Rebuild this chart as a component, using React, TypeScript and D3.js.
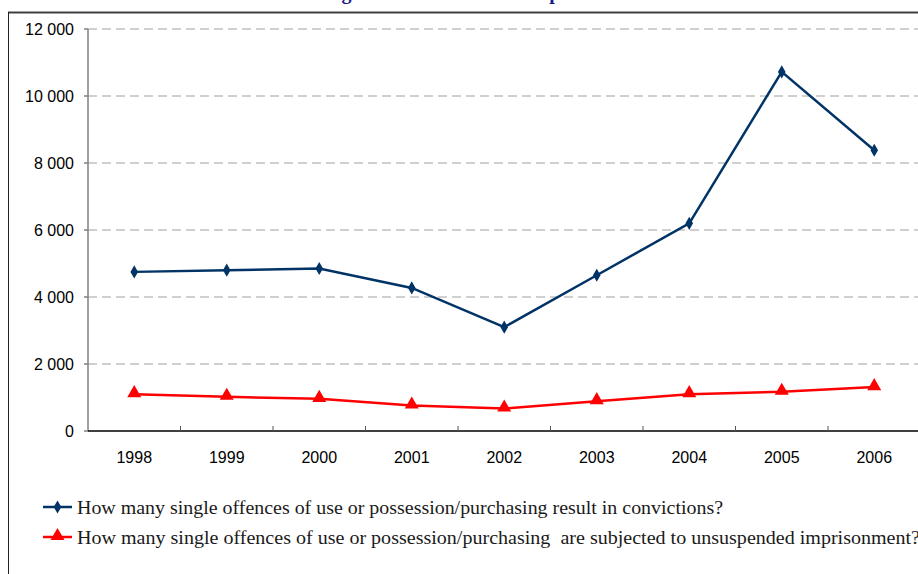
import React from "react";
import * as d3 from "d3";

const years = ["1998", "1999", "2000", "2001", "2002", "2003", "2004", "2005", "2006"];
const convictions = [4750, 4800, 4850, 4270, 3100, 4650, 6200, 10720, 8380];
const imprisonment = [1100, 1020, 960, 760, 670, 890, 1100, 1170, 1310];
const yTicks = [0, 2000, 4000, 6000, 8000, 10000, 12000];
const legendLabels = [
  "How many single offences of use or possession/purchasing result in convictions?",
  "How many single offences of use or possession/purchasing\u00a0 are subjected to unsuspended imprisonment?",
];
const titleText = "Number of drug offences of use or possession";

const W = 918;
const H = 574;

export default function App() {
  const left = 88;
  const step = 92.5;
  const x = d3
    .scaleBand<string>()
    .domain(years)
    .range([left, left + step * years.length]);
  const y = d3.scaleLinear().domain([0, 12000]).range([431, 29]);
  const cx = (yr: string) => (x(yr) as number) + x.bandwidth() / 2;

  const line = d3
    .line<number>()
    .x((_, i) => cx(years[i]))
    .y((d) => y(d));

  const fmt = (v: number) => d3.format(",")(v).replace(/,/g, " ");
  const blue = "#003366";
  const red = "#FF0000";
  const tri = d3.symbol().type(d3.symbolTriangle).size(85)();
  const dia = d3.symbol().type(d3.symbolDiamond).size(50)();

  return (
    <svg
      width={W}
      height={H}
      style={{ position: "absolute", left: 0, top: 0, background: "#fff" }}
    >
      <rect x={0} y={0} width={W} height={H} fill="#fff" />
      <text
        x={192}
        y={-1}
        fontFamily="Liberation Serif"
        fontWeight="bold"
        fontSize={20}
        letterSpacing={1}
        wordSpacing={4}
        fill="#1a1a8c"
      >
        {titleText}
      </text>
      {/* outer frame */}
      <line x1={8} x2={W + 2} y1={12.5} y2={12.5} stroke="#404040" strokeWidth={2} />
      <line x1={8.5} x2={8.5} y1={12} y2={H + 2} stroke="#222" strokeWidth={1} />

      {/* gridlines */}
      {yTicks.slice(1).map((t) => (
        <line
          key={"g" + t}
          x1={left}
          x2={W}
          y1={y(t)}
          y2={y(t)}
          stroke="#a0a0a0"
          strokeWidth={1}
          strokeDasharray="9,5"
        />
      ))}
      {/* y axis */}
      <line x1={left} x2={left} y1={y(12000)} y2={y(0)} stroke="#808080" strokeWidth={1.5} />
      {yTicks.map((t) => (
        <g key={"y" + t}>
          <line x1={left - 4} x2={left} y1={y(t)} y2={y(t)} stroke="#808080" strokeWidth={1.5} />
          <text
            x={74}
            y={y(t)}
            dy="0.35em"
            textAnchor="end"
            fontFamily="Liberation Sans"
            fontSize={16}
            fill="#000"
          >
            {fmt(t)}
          </text>
        </g>
      ))}
      {/* x axis */}
      <line x1={left} x2={W} y1={y(0)} y2={y(0)} stroke="#000" strokeWidth={1.5} />
      {years.map((yr, i) => (
        <g key={"x" + yr}>
          {i > 0 && (
            <line
              x1={x(yr) as number}
              x2={x(yr) as number}
              y1={y(0) - 5}
              y2={y(0)}
              stroke="#555"
              strokeWidth={1}
            />
          )}
          <text
            x={cx(yr)}
            y={463}
            textAnchor="middle"
            fontFamily="Liberation Sans"
            fontSize={16}
            fill="#000"
          >
            {yr}
          </text>
        </g>
      ))}

      {/* series */}
      <path d={line(imprisonment) as string} fill="none" stroke={red} strokeWidth={2.5} />
      {imprisonment.map((v, i) => (
        <path key={"r" + i} d={tri as string} transform={`translate(${cx(years[i])},${y(v) - 1})`} fill={red} />
      ))}
      <path d={line(convictions) as string} fill="none" stroke={blue} strokeWidth={2.5} />
      {convictions.map((v, i) => (
        <path key={"b" + i} d={dia as string} transform={`translate(${cx(years[i])},${y(v)})`} fill={blue} />
      ))}

      {/* legend */}
      {legendLabels.map((lab, i) => {
        const ly = 507 + i * 30;
        return (
          <g key={"l" + i}>
            <line x1={43} x2={72} y1={ly} y2={ly} stroke={i === 0 ? blue : red} strokeWidth={2.5} />
            <path
              d={(i === 0 ? dia : tri) as string}
              transform={`translate(57.5,${ly - (i === 0 ? 0 : 1)})`}
              fill={i === 0 ? blue : red}
            />
            <text
              x={77}
              y={ly + 7}
              fontFamily="Liberation Serif"
              fontSize={18}
              fill="#1a1a1a"
              textLength={i === 0 ? 646 : 843}
              lengthAdjust="spacingAndGlyphs"
            >
              {lab}
            </text>
          </g>
        );
      })}
    </svg>
  );
}
